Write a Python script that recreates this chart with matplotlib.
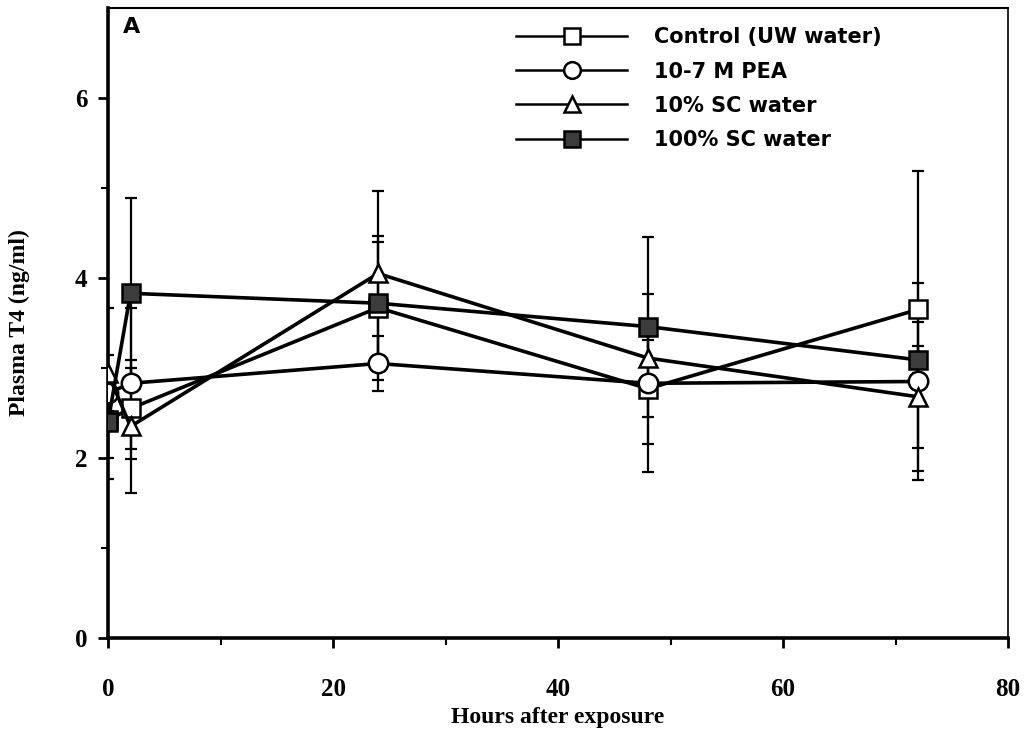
import matplotlib.pyplot as plt
import numpy as np

# hours after exposure
hours = [0, 2, 24, 48, 72]

# plasma T4 means (ng/ml) and error bar half-widths
control = [2.42, 2.55, 3.67, 2.77, 3.65]
control_err = [0.10, 0.45, 0.80, 0.62, 1.54]
pea = [2.72, 2.83, 3.05, 2.83, 2.85]
pea_err = [0.95, 0.84, 0.31, 0.99, 1.09]
sc10 = [2.94, 2.35, 4.05, 3.11, 2.68]
sc10_err = [0.20, 0.74, 0.92, 0.20, 0.83]
sc100 = [2.40, 3.83, 3.72, 3.46, 3.09]
sc100_err = [0.40, 1.06, 0.68, 1.00, 0.15]

labels = ["Control (UW water)", "10-7 M PEA", "10% SC water", "100% SC water"]

series = [
    (control, control_err, "s", "white"),
    (pea, pea_err, "o", "white"),
    (sc10, sc10_err, "^", "white"),
    (sc100, sc100_err, "s", "#3c3c3c"),
]

serif = "Liberation Serif"

fig = plt.figure(figsize=(10.24, 7.34), dpi=100)
ax = fig.add_axes([0.1055, 0.1308, 0.8789, 0.8583])

handles = []
for (vals, err, mk, fc), lab in zip(series, labels):
    # error bars first, under every marker
    ax.errorbar(hours, vals, yerr=err, fmt="none", ecolor="black",
                elinewidth=1.6, capsize=4.5, capthick=1.6, zorder=2)
    ax.plot(hours, vals, color="black", lw=2.6, marker=mk,
            markersize=13 if mk != "o" else 14, markerfacecolor=fc,
            markeredgecolor="black", markeredgewidth=1.8, zorder=3)
    # smaller markers and thinner line in the legend key
    h, = ax.plot([], [], color="black", lw=1.8, marker=mk,
                 markersize=11 if mk != "o" else 12, markerfacecolor=fc,
                 markeredgecolor="black", markeredgewidth=1.8, label=lab)
    handles.append(h)

ax.set_xlim(0, 80)
ax.set_ylim(0, 7)
ax.set_xticks([0, 20, 40, 60, 80])
ax.set_xticks([10, 30, 50, 70], minor=True)
ax.set_yticks([0, 2, 4, 6])
ax.set_yticks([1, 3, 5], minor=True)

ax.tick_params(which="major", direction="out", length=7, width=2)
ax.tick_params(which="minor", direction="out", length=5, width=1.5)
for lab in ax.get_xticklabels() + ax.get_yticklabels():
    lab.set_fontfamily(serif)
    lab.set_fontweight("bold")
    lab.set_fontsize(18)
ax.tick_params(axis="x", pad=22)
ax.tick_params(axis="y", pad=8)

ax.spines["left"].set_linewidth(2.6)
ax.spines["bottom"].set_linewidth(2.6)
ax.spines["top"].set_linewidth(1.5)
ax.spines["right"].set_linewidth(1.2)

ax.set_xlabel("Hours after exposure", fontfamily=serif, fontweight="bold",
              fontsize=17, labelpad=4)
ax.set_ylabel("Plasma T4 (ng/ml)", fontfamily=serif, fontweight="bold",
              fontsize=17, labelpad=32)

ax.text(0.017, 0.985, "A", transform=ax.transAxes, ha="left", va="top",
        fontsize=16, fontweight="bold", fontfamily="DejaVu Sans")

ax.legend(handles=handles, loc="upper left", bbox_to_anchor=(0.433, 0.999),
          frameon=False, numpoints=1, handlelength=5.3, handletextpad=1.3,
          labelspacing=0.68, prop={"family": "DejaVu Sans", "weight": "bold",
                                   "size": 15})

fig.savefig("out.png", dpi=100)
